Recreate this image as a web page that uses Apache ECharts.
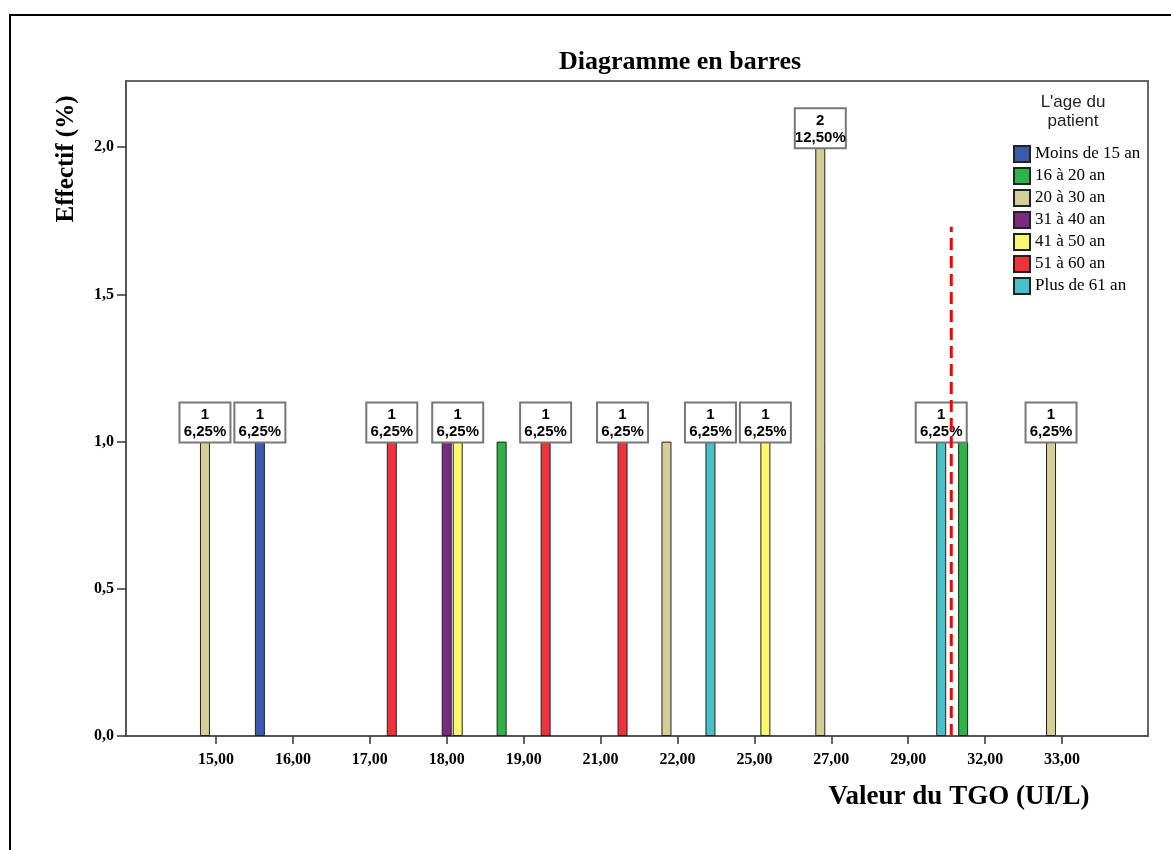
<!DOCTYPE html>
<html><head><meta charset="utf-8">
<script src="https://cdn.jsdelivr.net/npm/echarts@6/dist/echarts.min.js"></script>
<style>html,body{margin:0;padding:0;background:#fff}#c{width:1171px;height:850px}</style>
</head><body><div id="c"></div>
<script>
// ---- data ----
const categories = ['15,00','16,00','17,00','18,00','19,00','21,00','22,00','25,00','27,00','29,00','32,00','33,00'];
const seriesNames = ['Moins de 15 an','16 à 20 an','20 à 30 an','31 à 40 an','41 à 50 an','51 à 60 an','Plus de 61 an'];
const moins15 = [null,1,null,null,null,null,null,null,null,null,null,null];
const a16_20  = [null,null,null,null,1,null,null,null,null,null,1,null];
const a20_30  = [1,null,null,null,null,null,1,null,2,null,null,1];
const a31_40  = [null,null,null,1,null,null,null,null,null,null,null,null];
const a41_50  = [null,null,null,1,null,null,null,1,null,null,null,null];
const a51_60  = [null,null,1,null,1,1,null,null,null,null,null,null];
const plus61  = [null,null,null,null,null,null,1,null,null,1,null,null];
const yTicks = [0,0.5,1,1.5,2];
const yMax = 2.225;
const refLineX = 9.56;     // in category-index units
const refLineTop = 1.73;

// ---- build ----
const seriesValues = [moins15,a16_20,a20_30,a31_40,a41_50,a51_60,plus61];
const colors = ['#3D59AB','#2DB34A','#D4CF98','#7B2A82','#FBF86D','#F2323B','#48C0C6'];
const total = seriesValues.flat().reduce((s,v)=>s+(v||0),0);
const LABEL_W = 51;
const serif = 'Liberation Serif, Times New Roman, serif';
const sans = 'Liberation Sans, Arial, sans-serif';

function fmtComma(v, d){ return v.toFixed(d).replace('.', ','); }

function makeBarSeries(hidden){
  return seriesValues.map((vals, s) => ({
    type:'bar', name: seriesNames[s], xAxisIndex:0, yAxisIndex:0,
    barWidth:10, barGap:'10%', z:2,
    itemStyle:{color: colors[s], borderColor:'#222', borderWidth:1},
    emphasis:{disabled:true},
    label:{
      show:true, position:'top', distance:0,
      formatter: p => '{n|' + p.value + '}\n{p|' + fmtComma(p.value/total*100, 2) + '%}',
      backgroundColor:'#fff', borderColor:'#777', borderWidth:2,
      padding:[3,2,1,2], width:45, align:'center',
      rich:{
        n:{fontFamily:sans, fontWeight:'bold', fontSize:15, lineHeight:17, color:'#000', align:'center'},
        p:{fontFamily:sans, fontWeight:'bold', fontSize:15, lineHeight:17, color:'#000', align:'center'}
      }
    },
    data: vals.map((v,i) => v == null ? null : {value:v, label:{show: !(hidden && hidden[s+'_'+i])}})
  }));
}

const lineSeries = {
  type:'line', name:'ref', xAxisIndex:1, yAxisIndex:0, z:10,
  symbol:'none', silent:true,
  lineStyle:{color:'#FF0000', width:3, type:[12,6]},
  data:[[refLineX,0],[refLineX,refLineTop]]
};

const chart = echarts.init(document.getElementById('c'), null, {renderer:'canvas'});
const option = {
  animation:false,
  backgroundColor:'#fff',
  grid:[
    {left:177.5, right:70.5, top:81, bottom:114},
    {left:126, right:23, top:81, bottom:114, show:true, borderColor:'#666', borderWidth:2, backgroundColor:'transparent'}
  ],
  xAxis:[
    {type:'category', gridIndex:0, data:categories, boundaryGap:true,
     axisLine:{show:false},
     axisTick:{show:true, alignWithLabel:true, length:8, lineStyle:{color:'#333', width:1.5}},
     axisLabel:{fontFamily:serif, fontWeight:'bold', fontSize:16, color:'#000', margin:16},
     splitLine:{show:false}},
    {type:'value', gridIndex:0, min:-0.5, max:11.5, show:false},
    {type:'value', gridIndex:1, min:0, max:1, position:'bottom',
     axisLine:{show:true, lineStyle:{color:'#555', width:2}},
     axisTick:{show:false}, axisLabel:{show:false}, splitLine:{show:false}}
  ],
  yAxis:[
    {type:'value', gridIndex:0, min:0, max:yMax, show:false, splitLine:{show:false}},
    {type:'value', gridIndex:1, min:0, max:yMax, interval:0.5,
     axisLine:{show:true, lineStyle:{color:'#555', width:2}},
     axisTick:{show:true, length:9, customValues:yTicks, lineStyle:{color:'#333', width:1.5}},
     axisLabel:{customValues:yTicks, fontFamily:serif, fontWeight:'bold', fontSize:16, color:'#000', margin:12,
       formatter: v => fmtComma(v,1)},
     splitLine:{show:false}}
  ],
  legend:{
    data:seriesNames, orient:'vertical', left:1008, top:140,
    itemWidth:16, itemHeight:16, itemGap:4, icon:'rect',
    selectedMode:false,
    textStyle:{fontFamily:serif, fontSize:17, color:'#000'}
  },
  graphic:[
    {type:'rect', shape:{x:10, y:15, width:1200, height:900}, style:{fill:null, stroke:'#000', lineWidth:2}, silent:true},
    {type:'text', x:680, y:62, style:{text:'Diagramme en barres', font:'bold 26px '+serif, fill:'#000', textAlign:'center', textVerticalAlign:'middle'}},
    {type:'text', x:1073, y:102, style:{text:"L'age du", font:'17px '+sans, fill:'#222', textAlign:'center', textVerticalAlign:'middle'}},
    {type:'text', x:1073, y:121, style:{text:'patient', font:'17px '+sans, fill:'#222', textAlign:'center', textVerticalAlign:'middle'}},
    {type:'text', x:959, y:797, style:{text:'Valeur du TGO (UI/L)', font:'bold 27px '+serif, fill:'#000', textAlign:'center', textVerticalAlign:'middle'}},
    {type:'text', x:67, y:159, rotation:Math.PI/2, style:{text:'Effectif (%)', font:'bold 25px '+serif, fill:'#000', textAlign:'center', textVerticalAlign:'middle'}}
  ],
  series: makeBarSeries(null).concat([lineSeries])
};
chart.setOption(option);

// hide overlapping value labels: higher series index has priority
const hidden = {};
try {
  const items = [];
  seriesValues.forEach((vals, s) => {
    const data = chart.getModel().getSeriesByIndex(s).getData();
    vals.forEach((v, i) => {
      if (v == null) return;
      const lay = data.getItemLayout(i);
      items.push({s, i, cx: lay.x + lay.width/2});
    });
  });
  items.sort((a,b) => b.s - a.s || a.i - b.i);
  const kept = [];
  items.forEach(it => {
    if (kept.some(k => Math.abs(k.cx - it.cx) < LABEL_W)) hidden[it.s+'_'+it.i] = true;
    else kept.push(it);
  });
} catch(e) {}
chart.setOption({series: makeBarSeries(hidden).concat([lineSeries])});
</script>
</body></html>
